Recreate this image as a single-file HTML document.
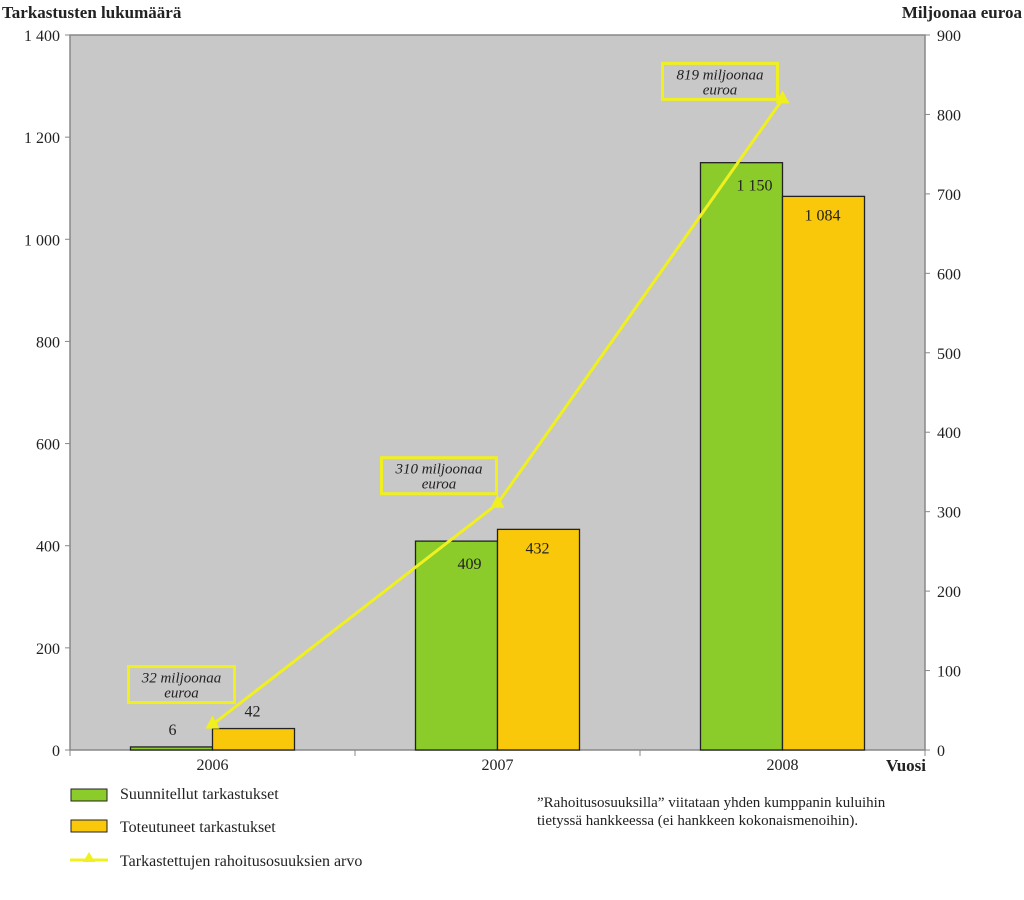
<!DOCTYPE html>
<html><head><meta charset="utf-8"><style>
body{margin:0;background:#fff;}
svg{display:block;font-family:"Liberation Serif",serif;}
</style></head><body>
<svg width="1024" height="900" viewBox="0 0 1024 900">
<g id="g"></g>
</svg>
<script>
const categories=["2006","2007","2008"];
const planned=[6,409,1150];
const actual=[42,432,1084];
const funding=[32,310,819];
const leftTicks=[0,200,400,600,800,1000,1200,1400];
const rightTicks=[0,100,200,300,400,500,600,700,800,900];
const plannedLabels=["6","409","1 150"];
const actualLabels=["42","432","1 084"];
const fundingLabels=["32 miljoonaa","310 miljoonaa","819 miljoonaa"];

const X0=70,X1=925,Y0=750,Y1=35;
const band=(X1-X0)/categories.length;
const cx=i=>X0+band*(i+0.5);
const yL=v=>Y0-(v/1400)*(Y0-Y1);
const yR=v=>Y0-(v/900)*(Y0-Y1);
const g=document.getElementById('g');
const NS="http://www.w3.org/2000/svg";
function el(tag,attrs,text){const e=document.createElementNS(NS,tag);for(const k in attrs)e.setAttribute(k,attrs[k]);if(text!==undefined)e.textContent=text;g.appendChild(e);return e;}
function fmt(v){return v>=1000?Math.floor(v/1000)+" "+String(v%1000).padStart(3,"0"):String(v);}

let e=el('rect',{x:X0,y:Y1,width:X1-X0,height:Y0-Y1,fill:'#c8c8c8',stroke:'#888','stroke-width':1.5});


leftTicks.forEach(v=>{
 el('line',{x1:X0-5,x2:X0,y1:yL(v),y2:yL(v),stroke:'#888'});
 e=el('text',{x:X0-10,y:yL(v)+6,'text-anchor':'end','font-size':16,fill:'#222'},fmt(v));
 
});
rightTicks.forEach(v=>{
 el('line',{x1:X1,x2:X1+5,y1:yR(v),y2:yR(v),stroke:'#888'});
 e=el('text',{x:X1+12,y:yR(v)+6,'font-size':16,fill:'#222'},String(v));
 
});
for(let i=0;i<=categories.length;i++){el('line',{x1:X0+band*i,x2:X0+band*i,y1:Y0,y2:Y0+6,stroke:'#888'});}
categories.forEach((c,i)=>{
 e=el('text',{x:cx(i),y:Y0+20,'text-anchor':'middle','font-size':16,fill:'#222'},c);
 
});
const bw=82;
categories.forEach((c,i)=>{
 e=el('rect',{x:cx(i)-bw,y:yL(planned[i]),width:bw,height:Y0-yL(planned[i]),fill:'#8ccc2a',stroke:'#222','stroke-width':1.3});
 
 e=el('rect',{x:cx(i),y:yL(actual[i]),width:bw,height:Y0-yL(actual[i]),fill:'#f9c80a',stroke:'#222','stroke-width':1.3});
 
 const pin=Y0-yL(planned[i])>40;
 e=el('text',{x:pin?cx(i)-28:cx(i)-40,y:pin?yL(planned[i])+28:yL(planned[i])-12,'text-anchor':'middle','font-size':16,fill:'#222'},plannedLabels[i]);
 
 const ain=Y0-yL(actual[i])>40;
 e=el('text',{x:cx(i)+40,y:ain?yL(actual[i])+24:yL(actual[i])-12,'text-anchor':'middle','font-size':16,fill:'#222'},actualLabels[i]);
 
});
e=el('polyline',{points:funding.map((v,i)=>cx(i)+','+yR(v)).join(' '),fill:'none',stroke:'#f0f020','stroke-width':3});

funding.forEach((v,i)=>{
 const x=cx(i),y=yR(v);
 e=el('polygon',{points:`${x},${y-9} ${x-7},${y+4} ${x+7},${y+4}`,fill:'#f0f020'});
 
 const bx=x-84+(i===2?-35:0)+(i===0?0:0), by=y-62;
 const rx=i===0?x-84:(i===1?x-116:x-120);
 const ry=i===0?y-58:(i===1?y-46:y-36);
 el('rect',{x:rx,y:ry,width:i===0?106:115,height:36,fill:'none',stroke:'#f0f020','stroke-width':3});
 const w=i===0?106:115;
 e=el('text',{x:rx+w/2,y:ry+16,'text-anchor':'middle','font-size':15,'font-style':'italic',fill:'#222'},fundingLabels[i]);
 
 el('text',{x:rx+w/2,y:ry+31,'text-anchor':'middle','font-size':15,'font-style':'italic',fill:'#222'},'euroa');
});
e=el('text',{x:2,y:18,'font-size':17,'font-weight':'bold',fill:'#222'},'Tarkastusten lukumäärä');

e=el('text',{x:1022,y:18,'text-anchor':'end','font-size':17,'font-weight':'bold',fill:'#222'},'Miljoonaa euroa');

e=el('text',{x:926,y:771,'text-anchor':'end','font-size':17,'font-weight':'bold',fill:'#222'},'Vuosi');

e=el('rect',{x:71,y:789,width:36,height:12,fill:'#8ccc2a',stroke:'#222'});

e=el('text',{x:120,y:799,'font-size':16,fill:'#222'},'Suunnitellut tarkastukset');

e=el('rect',{x:71,y:820,width:36,height:12,fill:'#f9c80a',stroke:'#222'});

e=el('text',{x:120,y:832,'font-size':16,fill:'#222'},'Toteutuneet tarkastukset');

el('line',{x1:70,x2:108,y1:860,y2:860,stroke:'#f0f020','stroke-width':3});
el('polygon',{points:'89,852 83,862 95,862',fill:'#f0f020'});
e=el('text',{x:120,y:866,'font-size':16,fill:'#222'},'Tarkastettujen rahoitusosuuksien arvo');

e=el('text',{x:537,y:807,'font-size':15,fill:'#222'},'”Rahoitusosuuksilla” viitataan yhden kumppanin kuluihin');

el('text',{x:537,y:825,'font-size':15,fill:'#222'},'tietyssä hankkeessa (ei hankkeen kokonaismenoihin).');
</script>
</body></html>
